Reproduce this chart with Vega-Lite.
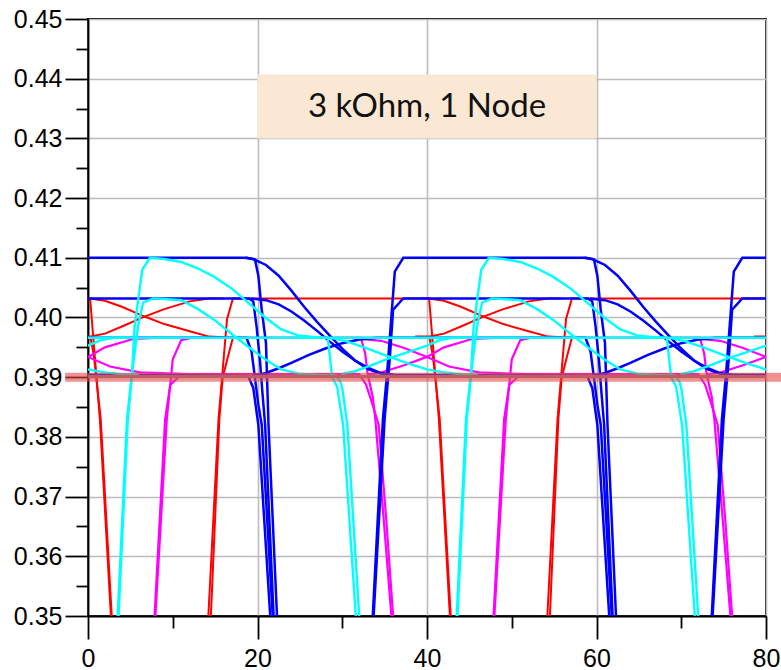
{
  "$schema": "https://vega.github.io/schema/vega-lite/v6.json",
  "width": 678,
  "height": 597,
  "autosize": {"type": "none"},
  "padding": {"left": 88, "top": 19, "right": 15, "bottom": 54},
  "background": "white",
  "config": {
    "view": {"stroke": "#000000", "strokeWidth": 1.8},
    "axis": {
      "labelFont": "Liberation Sans",
      "labelFontSize": 25,
      "labelColor": "#000000",
      "domainColor": "#000000",
      "domainWidth": 1.8,
      "tickColor": "#000000",
      "tickWidth": 1.8,
      "gridColor": "#bcbcbc",
      "gridWidth": 1.6,
      "title": null,
      "labelFlush": false,
      "labelOverlap": false
    }
  },
  "datasets": {
    "box": [{"x": 20, "x2": 60, "y": 0.43, "y2": 0.4407}],
    "label": [{"x": 40, "y": 0.4353, "t": "3 kOhm, 1 Node"}],
    "band": [{"x": -2.7, "x2": 81.9, "y": 0.39}],
    "gray": [{"s": "G", "x": 0, "y": 0.3901}, {"s": "G", "x": 80, "y": 0.3901}],
    "red": [
      {"s":"RA","x":-1,"y":0.4032},{"s":"RA","x":0.25,"y":0.4032},{"s":"RA","x":1.4,"y":0.383},{"s":"RA","x":2.7,"y":0.35},{"s":"RA","x":2.9,"y":0.34},{"s":"RA","x":14.0,"y":0.34},{"s":"RA","x":14.2,"y":0.35},{"s":"RA","x":15.4,"y":0.383},{"s":"RA","x":16.4,"y":0.3997},{"s":"RA","x":17.1,"y":0.4032},{"s":"RA","x":40.25,"y":0.4032},{"s":"RA","x":41.4,"y":0.383},{"s":"RA","x":42.7,"y":0.35},{"s":"RA","x":42.9,"y":0.34},{"s":"RA","x":54.0,"y":0.34},{"s":"RA","x":54.2,"y":0.35},{"s":"RA","x":55.4,"y":0.383},{"s":"RA","x":56.4,"y":0.3997},{"s":"RA","x":57.1,"y":0.4032},{"s":"RA","x":81,"y":0.4032},
      {"s":"RB","x":-1,"y":0.3966},{"s":"RB","x":0.3,"y":0.3966},{"s":"RB","x":0.7,"y":0.3935},{"s":"RB","x":1.5,"y":0.383},{"s":"RB","x":2.8,"y":0.35},{"s":"RB","x":3.0,"y":0.34},{"s":"RB","x":14.3,"y":0.34},{"s":"RB","x":14.5,"y":0.35},{"s":"RB","x":15.5,"y":0.383},{"s":"RB","x":15.9,"y":0.39},{"s":"RB","x":16.5,"y":0.3934},{"s":"RB","x":17.1,"y":0.3966},{"s":"RB","x":40.3,"y":0.3966},{"s":"RB","x":40.7,"y":0.3935},{"s":"RB","x":41.5,"y":0.383},{"s":"RB","x":42.8,"y":0.35},{"s":"RB","x":43.0,"y":0.34},{"s":"RB","x":54.3,"y":0.34},{"s":"RB","x":54.5,"y":0.35},{"s":"RB","x":55.5,"y":0.383},{"s":"RB","x":55.9,"y":0.39},{"s":"RB","x":56.5,"y":0.3934},{"s":"RB","x":57.1,"y":0.3966},{"s":"RB","x":81,"y":0.3966},
      {"s":"RC0","x":0.2,"y":0.4032},{"s":"RC0","x":2,"y":0.4028},{"s":"RC0","x":4,"y":0.4018},{"s":"RC0","x":6.6,"y":0.4002},{"s":"RC0","x":9,"y":0.3989},{"s":"RC0","x":12.2,"y":0.3976},{"s":"RC0","x":14.3,"y":0.3968},{"s":"RC0","x":16,"y":0.3967},
      {"s":"RC1","x":40.2,"y":0.4032},{"s":"RC1","x":42,"y":0.4028},{"s":"RC1","x":44,"y":0.4018},{"s":"RC1","x":46.6,"y":0.4002},{"s":"RC1","x":49,"y":0.3989},{"s":"RC1","x":52.2,"y":0.3976},{"s":"RC1","x":54.3,"y":0.3968},{"s":"RC1","x":56,"y":0.3967},
      {"s":"RD0","x":-1.4,"y":0.3968},{"s":"RD0","x":0.3,"y":0.3968},{"s":"RD0","x":2,"y":0.3973},{"s":"RD0","x":4,"y":0.3985},{"s":"RD0","x":6.6,"y":0.4001},{"s":"RD0","x":9,"y":0.4014},{"s":"RD0","x":12,"y":0.4027},{"s":"RD0","x":14.3,"y":0.4032},{"s":"RD0","x":16,"y":0.4032},
      {"s":"RD1","x":38.6,"y":0.3968},{"s":"RD1","x":40.3,"y":0.3968},{"s":"RD1","x":42,"y":0.3973},{"s":"RD1","x":44,"y":0.3985},{"s":"RD1","x":46.6,"y":0.4001},{"s":"RD1","x":49,"y":0.4014},{"s":"RD1","x":52,"y":0.4027},{"s":"RD1","x":54.3,"y":0.4032},{"s":"RD1","x":56,"y":0.4032},
      {"s":"RD2","x":78.6,"y":0.3968},{"s":"RD2","x":80.3,"y":0.3968},{"s":"RD2","x":82,"y":0.3973}
    ],
    "magenta": [
      {"s":"MA","x":-1,"y":0.34},{"s":"MA","x":7.8,"y":0.34},{"s":"MA","x":7.95,"y":0.35},{"s":"MA","x":9.3,"y":0.383},{"s":"MA","x":10.0,"y":0.393},{"s":"MA","x":11.0,"y":0.3962},{"s":"MA","x":12.3,"y":0.3966},{"s":"MA","x":32.2,"y":0.3966},{"s":"MA","x":32.7,"y":0.394},{"s":"MA","x":33.0,"y":0.3905},{"s":"MA","x":33.6,"y":0.3867},{"s":"MA","x":33.9,"y":0.383},{"s":"MA","x":34.9,"y":0.366},{"s":"MA","x":35.8,"y":0.35},{"s":"MA","x":36.0,"y":0.34},{"s":"MA","x":47.8,"y":0.34},{"s":"MA","x":47.95,"y":0.35},{"s":"MA","x":49.3,"y":0.383},{"s":"MA","x":50.0,"y":0.393},{"s":"MA","x":51.0,"y":0.3962},{"s":"MA","x":52.3,"y":0.3966},{"s":"MA","x":72.2,"y":0.3966},{"s":"MA","x":72.7,"y":0.394},{"s":"MA","x":73.0,"y":0.3905},{"s":"MA","x":73.6,"y":0.3867},{"s":"MA","x":73.9,"y":0.383},{"s":"MA","x":74.9,"y":0.366},{"s":"MA","x":75.8,"y":0.35},{"s":"MA","x":76.0,"y":0.34},{"s":"MA","x":81,"y":0.34},
      {"s":"MB","x":-1,"y":0.34},{"s":"MB","x":7.7,"y":0.34},{"s":"MB","x":7.85,"y":0.35},{"s":"MB","x":9.1,"y":0.383},{"s":"MB","x":9.7,"y":0.3887},{"s":"MB","x":10.9,"y":0.3903},{"s":"MB","x":11.7,"y":0.3905},{"s":"MB","x":32.0,"y":0.3905},{"s":"MB","x":32.8,"y":0.3888},{"s":"MB","x":33.4,"y":0.3862},{"s":"MB","x":34.3,"y":0.382},{"s":"MB","x":35.2,"y":0.366},{"s":"MB","x":36.0,"y":0.35},{"s":"MB","x":36.2,"y":0.34},{"s":"MB","x":47.7,"y":0.34},{"s":"MB","x":47.85,"y":0.35},{"s":"MB","x":49.1,"y":0.383},{"s":"MB","x":49.7,"y":0.3887},{"s":"MB","x":50.9,"y":0.3903},{"s":"MB","x":51.7,"y":0.3905},{"s":"MB","x":72.0,"y":0.3905},{"s":"MB","x":72.8,"y":0.3888},{"s":"MB","x":73.4,"y":0.3862},{"s":"MB","x":74.3,"y":0.382},{"s":"MB","x":75.2,"y":0.366},{"s":"MB","x":76.0,"y":0.35},{"s":"MB","x":76.2,"y":0.34},{"s":"MB","x":81,"y":0.34},
      {"s":"MCm","x":-7.8,"y":0.3964},{"s":"MCm","x":-5.4,"y":0.3961},{"s":"MCm","x":-2.7,"y":0.3949},{"s":"MCm","x":0,"y":0.3934},{"s":"MCm","x":2.6,"y":0.3918},{"s":"MCm","x":6.1,"y":0.3908},{"s":"MCm","x":11.7,"y":0.3905},
      {"s":"MC0","x":32.2,"y":0.3964},{"s":"MC0","x":34.6,"y":0.3961},{"s":"MC0","x":37.3,"y":0.3949},{"s":"MC0","x":40,"y":0.3934},{"s":"MC0","x":42.6,"y":0.3918},{"s":"MC0","x":46.1,"y":0.3908},{"s":"MC0","x":51.7,"y":0.3905},
      {"s":"MC1","x":72.2,"y":0.3964},{"s":"MC1","x":74.6,"y":0.3961},{"s":"MC1","x":77.3,"y":0.3949},{"s":"MC1","x":80,"y":0.3934},{"s":"MC1","x":82.6,"y":0.3918},
      {"s":"MDm","x":-7,"y":0.3905},{"s":"MDm","x":-5.6,"y":0.3907},{"s":"MDm","x":-2.7,"y":0.392},{"s":"MDm","x":0,"y":0.3934},{"s":"MDm","x":2,"y":0.395},{"s":"MDm","x":5.3,"y":0.3964},{"s":"MDm","x":8,"y":0.3966},
      {"s":"MD0","x":33,"y":0.3905},{"s":"MD0","x":34.4,"y":0.3907},{"s":"MD0","x":37.3,"y":0.392},{"s":"MD0","x":40,"y":0.3934},{"s":"MD0","x":42,"y":0.395},{"s":"MD0","x":45.3,"y":0.3964},{"s":"MD0","x":48,"y":0.3966},
      {"s":"MD1","x":73,"y":0.3905},{"s":"MD1","x":74.4,"y":0.3907},{"s":"MD1","x":77.3,"y":0.392},{"s":"MD1","x":80,"y":0.3934},{"s":"MD1","x":82,"y":0.395}
    ],
    "blue": [
      {"s":"BA","x":-1,"y":0.41},{"s":"BA","x":18.7,"y":0.41},{"s":"BA","x":19.7,"y":0.4097},{"s":"BA","x":20.1,"y":0.407},{"s":"BA","x":20.5,"y":0.4013},{"s":"BA","x":21.0,"y":0.3957},{"s":"BA","x":21.3,"y":0.382},{"s":"BA","x":22.3,"y":0.35},{"s":"BA","x":22.5,"y":0.34},{"s":"BA","x":33.4,"y":0.34},{"s":"BA","x":33.6,"y":0.35},{"s":"BA","x":34.8,"y":0.383},{"s":"BA","x":35.3,"y":0.3908},{"s":"BA","x":36.2,"y":0.4077},{"s":"BA","x":37.2,"y":0.41},{"s":"BA","x":58.7,"y":0.41},{"s":"BA","x":59.7,"y":0.4097},{"s":"BA","x":60.1,"y":0.407},{"s":"BA","x":60.5,"y":0.4013},{"s":"BA","x":61.0,"y":0.3957},{"s":"BA","x":61.3,"y":0.382},{"s":"BA","x":62.3,"y":0.35},{"s":"BA","x":62.5,"y":0.34},{"s":"BA","x":73.4,"y":0.34},{"s":"BA","x":73.6,"y":0.35},{"s":"BA","x":74.8,"y":0.383},{"s":"BA","x":75.3,"y":0.3908},{"s":"BA","x":76.2,"y":0.4077},{"s":"BA","x":77.2,"y":0.41},{"s":"BA","x":81,"y":0.41},
      {"s":"BB","x":-1,"y":0.4032},{"s":"BB","x":19.0,"y":0.4032},{"s":"BB","x":19.5,"y":0.4027},{"s":"BB","x":19.9,"y":0.3984},{"s":"BB","x":20.3,"y":0.3926},{"s":"BB","x":20.6,"y":0.3871},{"s":"BB","x":20.9,"y":0.382},{"s":"BB","x":21.9,"y":0.35},{"s":"BB","x":22.1,"y":0.34},{"s":"BB","x":33.5,"y":0.34},{"s":"BB","x":33.7,"y":0.35},{"s":"BB","x":35.0,"y":0.383},{"s":"BB","x":35.6,"y":0.393},{"s":"BB","x":36.0,"y":0.4013},{"s":"BB","x":37.2,"y":0.4032},{"s":"BB","x":59.0,"y":0.4032},{"s":"BB","x":59.5,"y":0.4027},{"s":"BB","x":59.9,"y":0.3984},{"s":"BB","x":60.3,"y":0.3926},{"s":"BB","x":60.6,"y":0.3871},{"s":"BB","x":60.9,"y":0.382},{"s":"BB","x":61.9,"y":0.35},{"s":"BB","x":62.1,"y":0.34},{"s":"BB","x":73.5,"y":0.34},{"s":"BB","x":73.7,"y":0.35},{"s":"BB","x":75.0,"y":0.383},{"s":"BB","x":75.6,"y":0.393},{"s":"BB","x":76.0,"y":0.4013},{"s":"BB","x":77.2,"y":0.4032},{"s":"BB","x":81,"y":0.4032},
      {"s":"BCm","x":-1,"y":0.3904},{"s":"BCm","x":18.9,"y":0.3902},{"s":"BCm","x":19.5,"y":0.3882},{"s":"BCm","x":20.1,"y":0.382},{"s":"BCm","x":21.5,"y":0.35},{"s":"BCm","x":21.7,"y":0.34},
      {"s":"BC0","x":18.6,"y":0.41},{"s":"BC0","x":19.5,"y":0.4098},{"s":"BC0","x":21,"y":0.4088},{"s":"BC0","x":22.5,"y":0.407},{"s":"BC0","x":24,"y":0.4045},{"s":"BC0","x":25.5,"y":0.4018},{"s":"BC0","x":27,"y":0.3993},{"s":"BC0","x":28.5,"y":0.397},{"s":"BC0","x":30,"y":0.3948},{"s":"BC0","x":31.5,"y":0.3928},{"s":"BC0","x":33,"y":0.3914},{"s":"BC0","x":34.5,"y":0.3906},{"s":"BC0","x":36,"y":0.3904},{"s":"BC0","x":58.9,"y":0.3902},{"s":"BC0","x":59.5,"y":0.3882},{"s":"BC0","x":60.1,"y":0.382},{"s":"BC0","x":61.5,"y":0.35},{"s":"BC0","x":61.7,"y":0.34},
      {"s":"BC1","x":58.6,"y":0.41},{"s":"BC1","x":59.5,"y":0.4098},{"s":"BC1","x":61,"y":0.4088},{"s":"BC1","x":62.5,"y":0.407},{"s":"BC1","x":64,"y":0.4045},{"s":"BC1","x":65.5,"y":0.4018},{"s":"BC1","x":67,"y":0.3993},{"s":"BC1","x":68.5,"y":0.397},{"s":"BC1","x":70,"y":0.3948},{"s":"BC1","x":71.5,"y":0.3928},{"s":"BC1","x":73,"y":0.3914},{"s":"BC1","x":74.5,"y":0.3906},{"s":"BC1","x":76,"y":0.3904},{"s":"BC1","x":81,"y":0.3904},
      {"s":"BD0","x":19.2,"y":0.4032},{"s":"BD0","x":21,"y":0.4029},{"s":"BD0","x":22.5,"y":0.4022},{"s":"BD0","x":24,"y":0.401},{"s":"BD0","x":25.5,"y":0.3995},{"s":"BD0","x":27,"y":0.3978},{"s":"BD0","x":28.5,"y":0.396},{"s":"BD0","x":30,"y":0.3943},{"s":"BD0","x":31.5,"y":0.3928},{"s":"BD0","x":33,"y":0.3916},{"s":"BD0","x":34.5,"y":0.3907},{"s":"BD0","x":36,"y":0.3904},
      {"s":"BD1","x":59.2,"y":0.4032},{"s":"BD1","x":61,"y":0.4029},{"s":"BD1","x":62.5,"y":0.4022},{"s":"BD1","x":64,"y":0.401},{"s":"BD1","x":65.5,"y":0.3995},{"s":"BD1","x":67,"y":0.3978},{"s":"BD1","x":68.5,"y":0.396},{"s":"BD1","x":70,"y":0.3943},{"s":"BD1","x":71.5,"y":0.3928},{"s":"BD1","x":73,"y":0.3916},{"s":"BD1","x":74.5,"y":0.3907},{"s":"BD1","x":76,"y":0.3904},
      {"s":"BEm","x":-1,"y":0.3966},{"s":"BEm","x":18.7,"y":0.3966},{"s":"BEm","x":19.3,"y":0.3943},{"s":"BEm","x":19.7,"y":0.3899},{"s":"BEm","x":20.1,"y":0.3854},{"s":"BEm","x":20.5,"y":0.382},{"s":"BEm","x":21.8,"y":0.35},{"s":"BEm","x":22,"y":0.34},
      {"s":"BE0","x":19.8,"y":0.3903},{"s":"BE0","x":21,"y":0.3907},{"s":"BE0","x":22.5,"y":0.3915},{"s":"BE0","x":24,"y":0.3924},{"s":"BE0","x":26,"y":0.3937},{"s":"BE0","x":28,"y":0.3948},{"s":"BE0","x":30,"y":0.3957},{"s":"BE0","x":32,"y":0.3963},{"s":"BE0","x":34,"y":0.3966},{"s":"BE0","x":58.7,"y":0.3966},{"s":"BE0","x":59.3,"y":0.3943},{"s":"BE0","x":59.7,"y":0.3899},{"s":"BE0","x":60.1,"y":0.3854},{"s":"BE0","x":60.5,"y":0.382},{"s":"BE0","x":61.8,"y":0.35},{"s":"BE0","x":62,"y":0.34},
      {"s":"BE1","x":59.8,"y":0.3903},{"s":"BE1","x":61,"y":0.3907},{"s":"BE1","x":62.5,"y":0.3915},{"s":"BE1","x":64,"y":0.3924},{"s":"BE1","x":66,"y":0.3937},{"s":"BE1","x":68,"y":0.3948},{"s":"BE1","x":70,"y":0.3957},{"s":"BE1","x":72,"y":0.3963},{"s":"BE1","x":74,"y":0.3966},{"s":"BE1","x":81,"y":0.3966}
    ],
    "cyan": [
      {"s":"CA","x":-1,"y":0.3966},{"s":"CA","x":81,"y":0.3966},
      {"s":"CB0","x":3.4,"y":0.34},{"s":"CB0","x":3.5,"y":0.35},{"s":"CB0","x":4.6,"y":0.383},{"s":"CB0","x":5.2,"y":0.3908},{"s":"CB0","x":5.5,"y":0.3985},{"s":"CB0","x":6.4,"y":0.408},{"s":"CB0","x":7.3,"y":0.41},{"s":"CB0","x":9,"y":0.4098},{"s":"CB0","x":11,"y":0.4093},{"s":"CB0","x":13,"y":0.4082},{"s":"CB0","x":14.9,"y":0.4068},{"s":"CB0","x":17,"y":0.4048},{"s":"CB0","x":18.9,"y":0.4025},{"s":"CB0","x":20.9,"y":0.4},{"s":"CB0","x":22.8,"y":0.398},{"s":"CB0","x":24.8,"y":0.397},{"s":"CB0","x":26.7,"y":0.3967},{"s":"CB0","x":28.3,"y":0.3966},{"s":"CB0","x":28.8,"y":0.39},{"s":"CB0","x":29.4,"y":0.3884},{"s":"CB0","x":30.1,"y":0.382},{"s":"CB0","x":31.6,"y":0.35},{"s":"CB0","x":31.8,"y":0.34},
      {"s":"CB1","x":43.4,"y":0.34},{"s":"CB1","x":43.5,"y":0.35},{"s":"CB1","x":44.6,"y":0.383},{"s":"CB1","x":45.2,"y":0.3908},{"s":"CB1","x":45.5,"y":0.3985},{"s":"CB1","x":46.4,"y":0.408},{"s":"CB1","x":47.3,"y":0.41},{"s":"CB1","x":49,"y":0.4098},{"s":"CB1","x":51,"y":0.4093},{"s":"CB1","x":53,"y":0.4082},{"s":"CB1","x":54.9,"y":0.4068},{"s":"CB1","x":57,"y":0.4048},{"s":"CB1","x":58.9,"y":0.4025},{"s":"CB1","x":60.9,"y":0.4},{"s":"CB1","x":62.8,"y":0.398},{"s":"CB1","x":64.8,"y":0.397},{"s":"CB1","x":66.7,"y":0.3967},{"s":"CB1","x":68.3,"y":0.3966},{"s":"CB1","x":68.8,"y":0.39},{"s":"CB1","x":69.4,"y":0.3884},{"s":"CB1","x":70.1,"y":0.382},{"s":"CB1","x":71.6,"y":0.35},{"s":"CB1","x":71.8,"y":0.34},
      {"s":"CC0","x":3.5,"y":0.34},{"s":"CC0","x":3.6,"y":0.35},{"s":"CC0","x":4.7,"y":0.383},{"s":"CC0","x":5.3,"y":0.3918},{"s":"CC0","x":5.9,"y":0.3985},{"s":"CC0","x":6.5,"y":0.4025},{"s":"CC0","x":7.7,"y":0.4032},{"s":"CC0","x":9,"y":0.4031},{"s":"CC0","x":11,"y":0.4029},{"s":"CC0","x":13,"y":0.4014},{"s":"CC0","x":14.9,"y":0.3996},{"s":"CC0","x":17,"y":0.3972},{"s":"CC0","x":18.9,"y":0.3951},{"s":"CC0","x":20.9,"y":0.393},{"s":"CC0","x":22.8,"y":0.3913},{"s":"CC0","x":24.8,"y":0.3906},{"s":"CC0","x":27,"y":0.3904},{"s":"CC0","x":29.3,"y":0.3903},{"s":"CC0","x":29.8,"y":0.3892},{"s":"CC0","x":30.0,"y":0.3882},{"s":"CC0","x":30.6,"y":0.382},{"s":"CC0","x":32.0,"y":0.35},{"s":"CC0","x":32.2,"y":0.34},
      {"s":"CC1","x":43.5,"y":0.34},{"s":"CC1","x":43.6,"y":0.35},{"s":"CC1","x":44.7,"y":0.383},{"s":"CC1","x":45.3,"y":0.3918},{"s":"CC1","x":45.9,"y":0.3985},{"s":"CC1","x":46.5,"y":0.4025},{"s":"CC1","x":47.7,"y":0.4032},{"s":"CC1","x":49,"y":0.4031},{"s":"CC1","x":51,"y":0.4029},{"s":"CC1","x":53,"y":0.4014},{"s":"CC1","x":54.9,"y":0.3996},{"s":"CC1","x":57,"y":0.3972},{"s":"CC1","x":58.9,"y":0.3951},{"s":"CC1","x":60.9,"y":0.393},{"s":"CC1","x":62.8,"y":0.3913},{"s":"CC1","x":64.8,"y":0.3906},{"s":"CC1","x":67,"y":0.3904},{"s":"CC1","x":69.3,"y":0.3903},{"s":"CC1","x":69.8,"y":0.3892},{"s":"CC1","x":70.0,"y":0.3882},{"s":"CC1","x":70.6,"y":0.382},{"s":"CC1","x":72.0,"y":0.35},{"s":"CC1","x":72.2,"y":0.34},
      {"s":"CDm","x":-2,"y":0.3922},{"s":"CDm","x":0,"y":0.3913},{"s":"CDm","x":2,"y":0.3908},{"s":"CDm","x":4,"y":0.3905},{"s":"CDm","x":6,"y":0.3904},
      {"s":"CD0","x":28.7,"y":0.3966},{"s":"CD0","x":30.5,"y":0.396},{"s":"CD0","x":32.6,"y":0.395},{"s":"CD0","x":35,"y":0.3937},{"s":"CD0","x":38,"y":0.3922},{"s":"CD0","x":40,"y":0.3913},{"s":"CD0","x":42,"y":0.3908},{"s":"CD0","x":44,"y":0.3905},{"s":"CD0","x":46,"y":0.3904},
      {"s":"CD1","x":68.7,"y":0.3966},{"s":"CD1","x":70.5,"y":0.396},{"s":"CD1","x":72.6,"y":0.395},{"s":"CD1","x":75,"y":0.3937},{"s":"CD1","x":78,"y":0.3922},{"s":"CD1","x":80,"y":0.3913},{"s":"CD1","x":82,"y":0.3908},
      {"s":"CEm","x":-2.7,"y":0.394},{"s":"CEm","x":0,"y":0.3953},{"s":"CEm","x":1.5,"y":0.3962},{"s":"CEm","x":3,"y":0.3966},{"s":"CEm","x":5,"y":0.3966},
      {"s":"CE0","x":29.9,"y":0.3905},{"s":"CE0","x":31.5,"y":0.391},{"s":"CE0","x":33.4,"y":0.392},{"s":"CE0","x":35.4,"y":0.3931},{"s":"CE0","x":37.3,"y":0.394},{"s":"CE0","x":40,"y":0.3953},{"s":"CE0","x":41.5,"y":0.3962},{"s":"CE0","x":43,"y":0.3966},{"s":"CE0","x":45,"y":0.3966},
      {"s":"CE1","x":69.9,"y":0.3905},{"s":"CE1","x":71.5,"y":0.391},{"s":"CE1","x":73.4,"y":0.392},{"s":"CE1","x":75.4,"y":0.3931},{"s":"CE1","x":77.3,"y":0.394},{"s":"CE1","x":80,"y":0.3953},{"s":"CE1","x":81.5,"y":0.3962}
    ]
  },
  "encoding": {
    "x": {
      "field": "x",
      "type": "quantitative",
      "scale": {"domain": [0, 80], "nice": false, "zero": false},
      "axis": {
        "values": [0, 10, 20, 30, 40, 50, 60, 70, 80],
        "labelExpr": "datum.value % 20 === 0 ? datum.label : ''",
        "tickSize": {"condition": {"test": "datum.value % 20 === 0", "value": 23}, "value": 12},
        "gridOpacity": {"condition": {"test": "datum.value % 20 === 0", "value": 1}, "value": 0},
        "labelPadding": 7
      }
    },
    "y": {
      "field": "y",
      "type": "quantitative",
      "scale": {"domain": [0.35, 0.45], "nice": false, "zero": false},
      "axis": {
        "values": [0.35, 0.355, 0.36, 0.365, 0.37, 0.375, 0.38, 0.385, 0.39, 0.395, 0.4, 0.405, 0.41, 0.415, 0.42, 0.425, 0.43, 0.435, 0.44, 0.445, 0.45],
        "labelExpr": "abs(datum.value * 100 - round(datum.value * 100)) < 0.01 ? format(datum.value, '.2f') : ''",
        "tickSize": {"condition": {"test": "abs(datum.value * 100 - round(datum.value * 100)) < 0.01", "value": 23}, "value": 12},
        "gridOpacity": {"condition": {"test": "abs(datum.value * 100 - round(datum.value * 100)) < 0.01", "value": 1}, "value": 0},
        "labelPadding": 3
      }
    }
  },
  "layer": [
    {
      "data": {"name": "box"},
      "mark": {"type": "rect", "fill": "#fae8d4"},
      "encoding": {"x2": {"field": "x2"}, "y2": {"field": "y2"}}
    },
    {
      "data": {"name": "label"},
      "mark": {"type": "text", "font": "Lato", "fontSize": 33, "color": "#111111", "align": "center", "baseline": "middle"},
      "encoding": {"text": {"field": "t"}}
    },
    {
      "data": {"name": "red"},
      "mark": {"type": "line", "color": "#ff0000", "strokeWidth": 2, "clip": true},
      "encoding": {"detail": {"field": "s"}}
    },
    {
      "data": {"name": "magenta"},
      "mark": {"type": "line", "color": "#ff00ff", "strokeWidth": 2.2, "clip": true},
      "encoding": {"detail": {"field": "s"}}
    },
    {
      "data": {"name": "blue"},
      "mark": {"type": "line", "color": "#0000ff", "strokeWidth": 2.5, "clip": true},
      "encoding": {"detail": {"field": "s"}}
    },
    {
      "data": {"name": "cyan"},
      "mark": {"type": "line", "color": "#00ffff", "strokeWidth": 2.4, "clip": true},
      "encoding": {"detail": {"field": "s"}}
    },
    {
      "data": {"name": "gray"},
      "mark": {"type": "line", "color": "#808080", "strokeWidth": 3, "clip": true},
      "encoding": {"detail": {"field": "s"}}
    },
    {
      "data": {"name": "band"},
      "mark": {"type": "rule", "color": "#e84a4a", "strokeWidth": 9, "opacity": 0.6, "clip": false},
      "encoding": {"x2": {"field": "x2"}}
    }
  ]
}
